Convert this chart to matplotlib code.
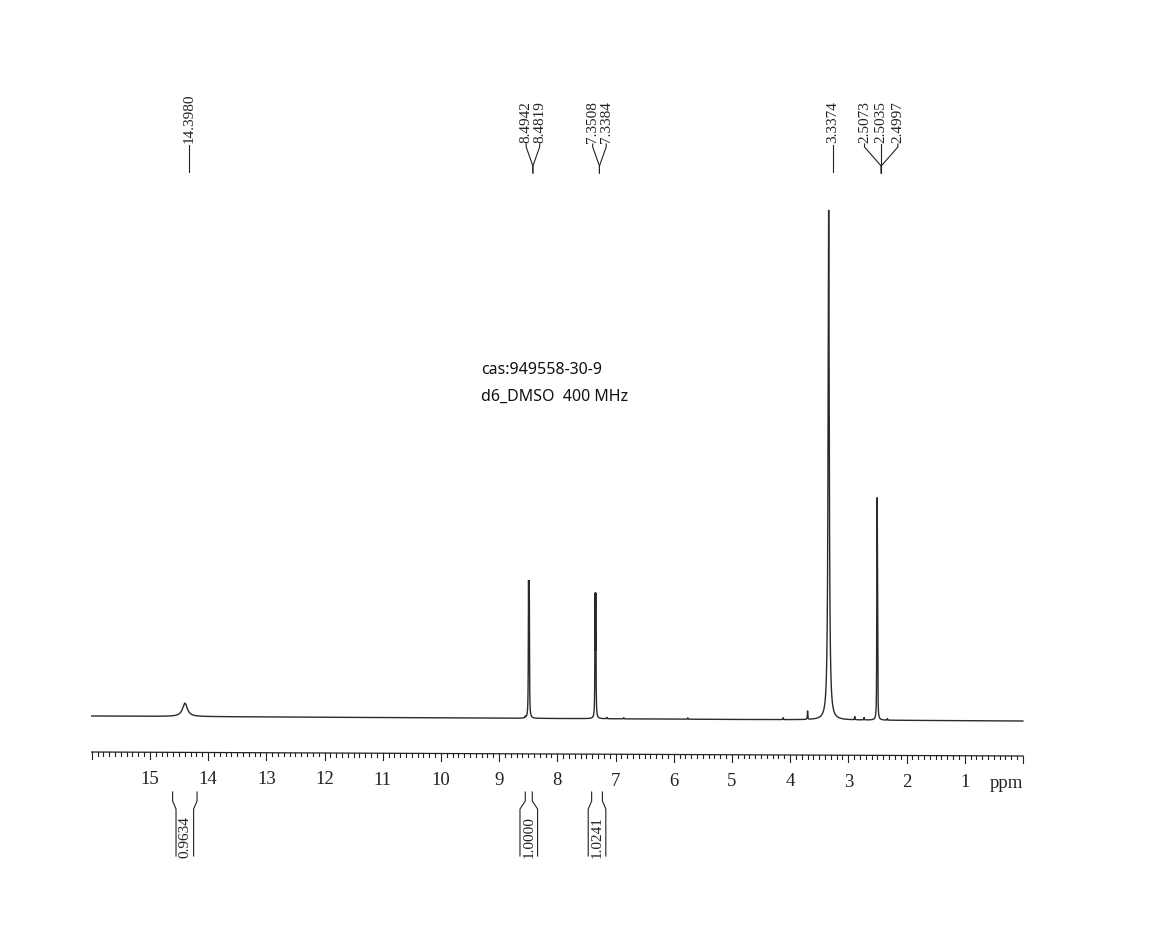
import numpy as np
import matplotlib
matplotlib.use("Agg")
import matplotlib.pyplot as plt

# ---------------- data ----------------
ppm_start, ppm_end = 16.0, 0.0
major_ticks = [15, 14, 13, 12, 11, 10, 9, 8, 7, 6, 5, 4, 3, 2, 1]

# multiplets: line positions (ppm), relative line weights, apex height, half-width (ppm)
mult_14 = ([14.3980], [1], 2.63, 0.050)
mult_849 = ([8.4942, 8.4819], [1, 1], 27.3, 0.004)
mult_734 = ([7.3508, 7.3384], [1, 1], 24.9, 0.004)
mult_water = ([3.3374], [1], 100.8, 0.012)
mult_dmso = ([2.5111, 2.5073, 2.5035, 2.4997, 2.4959], [1, 2, 3, 2, 1], 44.0, 0.003)
impurity_ppm = [8.55, 7.15, 6.86, 5.76, 4.12, 3.70, 2.89, 2.73, 2.33]
impurity_height = [0.3, 0.3, 0.25, 0.3, 0.4, 1.7, 0.65, 0.5, 0.3]
baseline_drift = 0.99  # baseline drop from 16 ppm to 0 ppm

peak_label_groups = [["14.3980"], ["8.4942", "8.4819"], ["7.3508", "7.3384"],
                     ["3.3374"], ["2.5073", "2.5035", "2.4997"]]

integral_ranges = [(14.61, 14.19), (8.55, 8.43), (7.41, 7.225)]
integral_values = ["0.9634", "1.0000", "1.0241"]

note_lines = ["cas:949558-30-9", "d6_DMSO  400 MHz"]

# ---------------- figure ----------------
W, H, DPI = 1149, 953, 100
fig = plt.figure(figsize=(W / DPI, H / DPI), dpi=DPI)

PX_PER_PPM = 58.2
X16 = 91.7  # pixel x of 16 ppm


def px2ppm(px):
    return ppm_start - (px - X16) / PX_PER_PPM


# overlay axes: x in ppm, y in pixels (top=0)
ov = fig.add_axes([0, 0, 1, 1])
ov.set_xlim(px2ppm(0), px2ppm(W))
ov.set_ylim(H, 0)
ov.axis("off")

# spectrum axes (intensity 0 at pixel row 717, 100 at row 211)
y_top_px, y_base_px = 211.0, 717.0
px_per_unit = (y_base_px - y_top_px) / 100.0
ymin = -6.0
y_bot_px = y_base_px - ymin * px_per_unit
sp = fig.add_axes([X16 / W, (H - y_bot_px) / H,
                   (ppm_start - ppm_end) * PX_PER_PPM / W, (y_bot_px - y_top_px) / H])
sp.set_xlim(ppm_start, ppm_end)
sp.set_ylim(ymin, 100)
sp.axis("off")
sp.patch.set_alpha(0)

x = np.linspace(ppm_start, ppm_end, 40001)


def lor(x, c, g):
    return 1.0 / (1.0 + ((x - c) / g) ** 2)


y = np.zeros_like(x)
for lines, wts, height, g in [mult_14, mult_849, mult_734, mult_water, mult_dmso]:
    shape = sum(w * lor(x, c, g) for c, w in zip(lines, wts))
    y += shape * height / shape.max()
for c, h in zip(impurity_ppm, impurity_height):
    y += h * lor(x, c, 0.004)
y -= baseline_drift * (ppm_start - x) / (ppm_start - ppm_end)
sp.plot(x, y, color="#2a2a2a", lw=1.0, solid_joinstyle="miter", clip_on=False)

# ---------------- ruler ----------------
serif = "Liberation Serif"


def ruler_y(p):
    return 753.0 + 4.0 * (ppm_start - p) / (ppm_start - ppm_end)


ov.plot([ppm_start, ppm_end], [ruler_y(ppm_start), ruler_y(ppm_end)], color="#222", lw=0.9)
minor = np.round(np.arange(ppm_end, ppm_start + 0.001, 0.1), 1)
for p in minor:
    is_major = abs(p - round(p)) < 1e-6
    L = 7 if is_major else 3.5
    ov.plot([p, p], [ruler_y(p), ruler_y(p) + L], color="#222", lw=0.8)
for t in major_ticks:
    ov.text(t, ruler_y(t) + 26, str(t), ha="center", va="center",
            fontsize=13.5, family=serif, color="#222")
ov.text(px2ppm(1006), ruler_y(0.3) + 27, "ppm", ha="center", va="center",
        fontsize=13.5, family=serif, color="#222")

# ---------------- peak labels ----------------
label_off = -4 / PX_PER_PPM
for grp in peak_label_groups:
    vals = [float(v) for v in grp]
    c = np.mean(vals) + label_off
    n = len(grp)
    spacing = (16.7 if n > 2 else 13.5) / PX_PER_PPM
    pos = [c + (n - 1) / 2 * spacing - i * spacing for i in range(n)]
    for lp, s in zip(pos, grp):
        ov.text(lp, 143, s, rotation=90, ha="center", va="bottom",
                fontsize=11, family=serif, color="#222")
        if n == 1:
            ov.plot([lp, lp], [146, 173], color="#222", lw=0.8)
        else:
            ov.plot([lp, lp, c, c], [145, 148, 167, 174], color="#222", lw=0.8)

# ---------------- integrals ----------------
half = 8.8 / PX_PER_PPM
for (a, b), v in zip(integral_ranges, integral_values):
    m = (a + b) / 2
    for top, bot in [(a, m + half), (b, m - half)]:
        ov.plot([top, top, bot, bot], [793, 802, 810, 857], color="#222", lw=0.8)
    ov.text(m, 837, v, rotation=90, ha="center", va="center",
            fontsize=11, family=serif, color="#222")

# ---------------- note ----------------
ov.text(px2ppm(481), 370, note_lines[0], ha="left", va="center",
        fontsize=11.5, family="Noto Sans", color="#111")
ov.text(px2ppm(481), 397, note_lines[1], ha="left", va="center",
        fontsize=11.5, family="Noto Sans", color="#111")

fig.savefig("out.png", dpi=DPI)
